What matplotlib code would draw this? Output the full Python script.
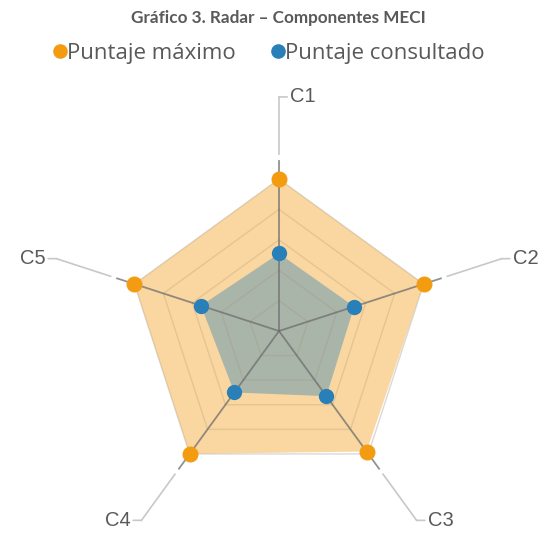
import numpy as np
import matplotlib.pyplot as plt
from matplotlib.lines import Line2D

categories = ['C1', 'C2', 'C3', 'C4', 'C5']
puntaje_maximo = [100, 100, 98, 100, 100]
puntaje_consultado = [51, 52, 53, 50, 54]
grid_levels = [20, 40, 60, 80, 100]

orange = '#f39c12'
blue = '#2980b9'
text_gray = '#595959'

angles = np.linspace(0, 2 * np.pi, len(categories), endpoint=False)
closed = np.append(angles, angles[0])

fig = plt.figure(figsize=(5.48, 5.34), dpi=100)
# polar axes placed so that r=100 is ~152 px around (279, 331)
ax = fig.add_axes([0.2318, 0.0955, 0.5547, 0.5693], projection='polar')
ax.set_theta_offset(np.pi / 2)
ax.set_theta_direction(-1)
ax.set_ylim(0, 100)
ax.axis('off')

# pentagon grid
for lvl in grid_levels:
    if lvl == 100:
        ax.plot(closed, [lvl] * len(closed), color='#d9d9d9', lw=1.0, zorder=1, clip_on=False)
    else:
        ax.plot(closed, [lvl] * len(closed), color='#a08c6e', alpha=0.25, lw=1.0, zorder=3, clip_on=False)

# series
vals_max = np.append(puntaje_maximo, puntaje_maximo[0])
vals_con = np.append(puntaje_consultado, puntaje_consultado[0])
ax.fill(closed, vals_max, color=orange, alpha=0.4, lw=0, zorder=2, clip_on=False)
ax.fill(closed, vals_con, color=blue, alpha=0.38, lw=0, zorder=2.5, clip_on=False)

# spokes and leader lines to labels
offsets = {'C1': (11, 0, 'left'), 'C2': (11, 0, 'left'), 'C3': (11, 0, 'left'),
           'C4': (-11, 0, 'right'), 'C5': (-11, 0, 'right')}
for a, cat in zip(angles, categories):
    ax.plot([a, a], [0, 112], color='#6e6e6e', alpha=0.75, lw=1.3, zorder=4, clip_on=False)
    ax.plot([a, a], [116.5, 154], color='#c8c8c8', lw=1.2, zorder=1, clip_on=False)
    dx, dy, ha = offsets[cat]
    ax.annotate(cat, xy=(a, 154), xytext=(dx, dy), textcoords='offset pixels',
                ha=ha, va='center', fontsize=14.5, color=text_gray,
                family='Liberation Sans', annotation_clip=False,
                arrowprops=dict(arrowstyle='-', color='#c8c8c8', lw=1.2,
                                shrinkA=0, shrinkB=0))

ax.plot(angles, puntaje_maximo, 'o', color=orange, ms=10.5, zorder=6, clip_on=False)
ax.plot(angles, puntaje_consultado, 'o', color=blue, ms=10, zorder=6, clip_on=False)

fig.text(0.508, 0.966, 'Gráfico 3. Radar – Componentes MECI', ha='center', va='center',
         fontsize=12.3, fontweight='bold', color=text_gray, family='Lato')

handles = [Line2D([], [], marker='o', ls='', color=orange, ms=9.5),
           Line2D([], [], marker='o', ls='', color=blue, ms=9.5)]
fig.legend(handles, ['Puntaje máximo', 'Puntaje consultado'], loc='center',
           bbox_to_anchor=(0.4845, 1 - 53 / 534), ncol=2, frameon=False,
           handletextpad=-0.3, columnspacing=1.3, handlelength=1.2,
           prop={'family': 'Open Sans', 'size': 16}, labelcolor=text_gray)

fig.savefig('out.png', dpi=100)
